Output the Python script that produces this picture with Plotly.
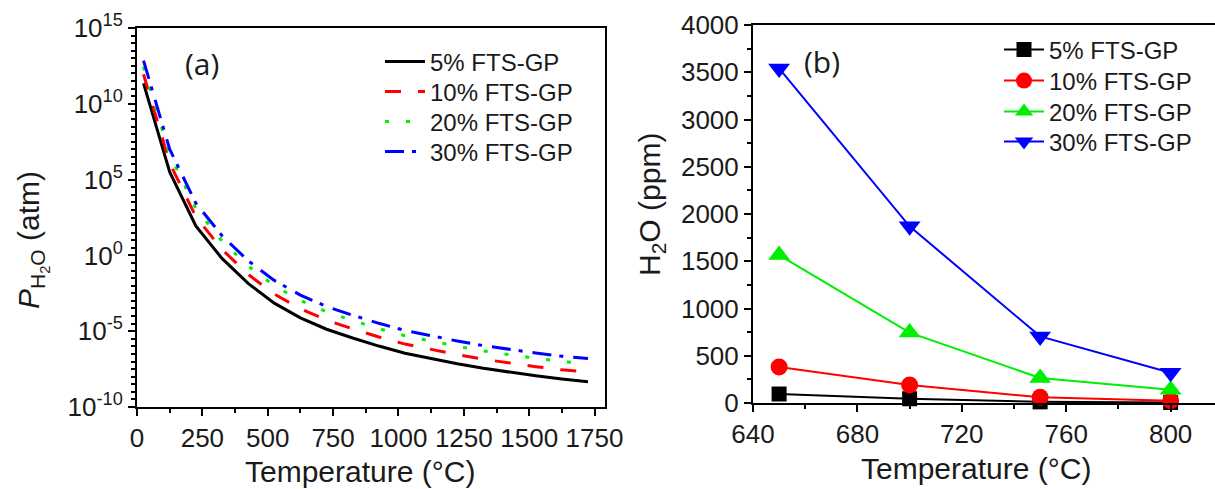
import plotly.graph_objects as go

# ---------- Panel (a): log10 P_H2O (atm) vs temperature ----------
temp_a = [25, 125, 225, 325, 425, 525, 625, 725, 825, 925, 1025, 1125,
          1225, 1325, 1425, 1525, 1625, 1725]
logp_5 = [11.35, 5.5, 1.95, -0.2, -1.85, -3.15, -4.12, -4.87, -5.45, -5.98,
          -6.45, -6.82, -7.15, -7.45, -7.71, -7.94, -8.15, -8.33]
logp_10 = [11.95, 6.1, 2.55, 0.4, -1.25, -2.55, -3.52, -4.27, -4.85, -5.38,
           -5.85, -6.22, -6.55, -6.85, -7.11, -7.34, -7.55, -7.7]
logp_20 = [12.45, 6.65, 3.1, 0.95, -0.7, -2.0, -2.97, -3.72, -4.3, -4.83,
           -5.3, -5.67, -6.0, -6.3, -6.56, -6.79, -7.0, -7.15]
logp_30 = [12.85, 7.0, 3.45, 1.3, -0.35, -1.65, -2.62, -3.37, -3.95, -4.48,
           -4.95, -5.32, -5.65, -5.95, -6.21, -6.44, -6.65, -6.8]

# ---------- Panel (b): H2O (ppm) vs temperature ----------
temp_b = [650, 700, 750, 800]
ppm_5 = [95, 45, 12, 5]
ppm_10 = [380, 190, 60, 25]
ppm_20 = [1565, 745, 265, 140]
ppm_30 = [3540, 1870, 705, 320]

labels = ["5% FTS-GP", "10% FTS-GP", "20% FTS-GP", "30% FTS-GP"]
colors = ["#000000", "#ff0000", "#00ee00", "#0000ff"]
dashes = ["solid", "16px,17px", "4px,17px", "19px,8px,4px,10px"]
symbols = ["square", "circle", "triangle-up", "triangle-down"]
msizes = [15, 17, 19, 19]

FONT = "Liberation Sans, Arial, sans-serif"
TXT = "#1a1a1a"
W, H = 1215, 489

# legend row centres (pixels from top) for each panel
legend_rows_a = [62, 92, 122, 152]
legend_rows_b = [50, 81, 112, 142]

fig = go.Figure()

for i, (lab, col, dsh, ys) in enumerate(zip(labels, colors, dashes,
                                            [logp_5, logp_10, logp_20, logp_30])):
    fig.add_trace(go.Scatter(
        x=temp_a, y=[10 ** v for v in ys], mode="lines", name=lab,
        line=dict(color=col, width=3, dash=dsh),
        xaxis="x", yaxis="y", legend="legend" if i == 0 else f"legend{i + 1}"))

for i, (lab, col, sym, ms, ys) in enumerate(zip(labels, colors, symbols, msizes,
                                                [ppm_5, ppm_10, ppm_20, ppm_30])):
    fig.add_trace(go.Scatter(
        x=temp_b, y=ys, mode="lines+markers", name=lab,
        line=dict(color=col, width=2),
        marker=dict(symbol=sym, size=ms, color=col, line=dict(width=0)),
        cliponaxis=False,
        xaxis="x2", yaxis="y2", legend=f"legend{i + 5}"))

axis_common = dict(showline=True, linecolor="black", linewidth=2,
                   ticks="outside", ticklen=7, tickwidth=2, tickcolor="black",
                   showgrid=False, zeroline=False, automargin=False,
                   tickfont=dict(family=FONT, size=26, color=TXT))
minor_common = dict(ticks="outside", ticklen=4, tickwidth=2, tickcolor="black")

ytick_vals = [1e-10, 1e-5, 1, 1e5, 1e10, 1e15]
ytick_text = ["10<sup>-10</sup>", "10<sup>-5</sup>", "10<sup>0</sup>",
              "10<sup>5</sup>", "10<sup>10</sup>", "10<sup>15</sup>"]

layout = dict(
    width=W, height=H,
    margin=dict(l=0, r=0, t=0, b=0),
    paper_bgcolor="white", plot_bgcolor="white",
    showlegend=True,
    xaxis=dict(axis_common, domain=[137 / W, 605 / W], range=[0, 1790],
               tickmode="array", tickvals=[0, 250, 500, 750, 1000, 1250, 1500, 1750],
               mirror=True, anchor="y",
               minor=dict(minor_common, tickvals=[125, 375, 625, 875, 1125, 1375, 1625])),
    yaxis=dict(axis_common, domain=[1 - 407 / H, 1 - 28 / H], type="log",
               range=[-10, 15], tickmode="array", tickvals=ytick_vals,
               ticktext=ytick_text, mirror=True, anchor="x",
               minor=dict(minor_common, tickvals=[10 ** (k / 2) for k in range(-20, 31)])),
    xaxis2=dict(axis_common, domain=[753 / W, 1.0], range=[640, 817],
                tickmode="array", tickvals=[640, 680, 720, 760, 800],
                mirror=True, anchor="y2",
                minor=dict(minor_common, tickvals=[660, 700, 740, 780])),
    yaxis2=dict(axis_common, domain=[1 - 403 / H, 1 - 25 / H], range=[0, 4000],
                tickmode="array", tickvals=list(range(0, 4001, 500)),
                mirror=False, anchor="x2",
                minor=dict(minor_common, tickvals=list(range(250, 4000, 500)))),
)

legend_style = dict(xanchor="left", yanchor="middle", bgcolor="rgba(0,0,0,0)",
                    itemwidth=40, borderwidth=0,
                    font=dict(family=FONT, size=24, color=TXT))
for i, yc in enumerate(legend_rows_a):
    key = "legend" if i == 0 else f"legend{i + 1}"
    layout[key] = dict(legend_style, x=380 / W, y=1 - yc / H)
for i, yc in enumerate(legend_rows_b):
    layout[f"legend{i + 5}"] = dict(legend_style, x=999 / W, y=1 - yc / H)

fig.update_layout(**layout)

annotations = [
    dict(text="(a)", x=202, y=63, font=dict(family="Open Sans, sans-serif", size=30, color=TXT)),
    dict(text="(b)", x=822, y=62, font=dict(family="Open Sans, sans-serif", size=30, color=TXT)),
    dict(text="Temperature (°C)", x=360, y=471, font=dict(family=FONT, size=30, color=TXT)),
    dict(text="Temperature (°C)", x=976, y=468, font=dict(family=FONT, size=30, color=TXT)),
    dict(text="<i>P</i><sub>H<sub>2</sub>O</sub> (atm)", x=32, y=240, textangle=-90,
         font=dict(family=FONT, size=30, color=TXT)),
    dict(text="H<sub>2</sub>O (ppm)", x=651, y=205, textangle=-90,
         font=dict(family=FONT, size=30, color=TXT)),
]
for a in annotations:
    fig.add_annotation(text=a["text"], x=a["x"] / W, y=1 - a["y"] / H,
                       xref="paper", yref="paper", showarrow=False,
                       xanchor="center", yanchor="middle",
                       textangle=a.get("textangle", 0), font=a["font"])

fig.write_html("out.html", config={"displayModeBar": False},
               post_script="document.body.style.margin='0';document.body.style.padding='0';")
